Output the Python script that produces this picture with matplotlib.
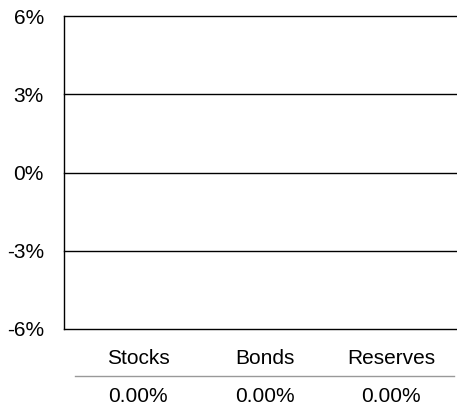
import matplotlib
matplotlib.use("Agg")
import matplotlib.pyplot as plt
import matplotlib.transforms as mtrans
from matplotlib.lines import Line2D

plt.rcParams['font.family'] = ['Liberation Sans', 'DejaVu Sans']

categories = ['Stocks', 'Bonds', 'Reserves']
values = [0.0, 0.0, 0.0]
yticks = [-6, -3, 0, 3, 6]

fig = plt.figure(figsize=(4.57, 4.12), dpi=100)
ax = fig.add_axes([64/457, 83/412, 393/457, 313/412])

x = list(range(len(categories)))
ax.bar(x, values, width=0.6, color='#4a7ebb')

ax.set_xlim(-0.584, 2.518)
ax.set_ylim(-6, 6)
for t in yticks:
    ax.axhline(t, color='black', lw=1.0, clip_on=False, zorder=0)

ax.set_yticks(yticks)
ax.set_yticklabels([f'{t}%' for t in yticks], fontsize=15)
ax.tick_params(axis='y', length=0, pad=14.4)
ax.set_xticks([])
for s in ['top', 'right', 'bottom']:
    ax.spines[s].set_visible(False)
ax.spines['left'].set_color('black')
ax.spines['left'].set_linewidth(1.0)

trans = mtrans.blended_transform_factory(ax.transData, fig.transFigure)
for xi, cat, v in zip(x, categories, values):
    ax.text(xi, 1 - 359/412, cat, transform=trans, ha='center', va='center',
            fontsize=15, clip_on=False)
    ax.text(xi, 1 - 397/412, f'{v:.2f}%', transform=trans, ha='center',
            va='center', fontsize=15, clip_on=False)

fig.add_artist(Line2D([75/457, 454/457], [1 - 376/412, 1 - 376/412],
                      transform=fig.transFigure, color='#999999', lw=1.0))

fig.savefig('out.png', dpi=100)
